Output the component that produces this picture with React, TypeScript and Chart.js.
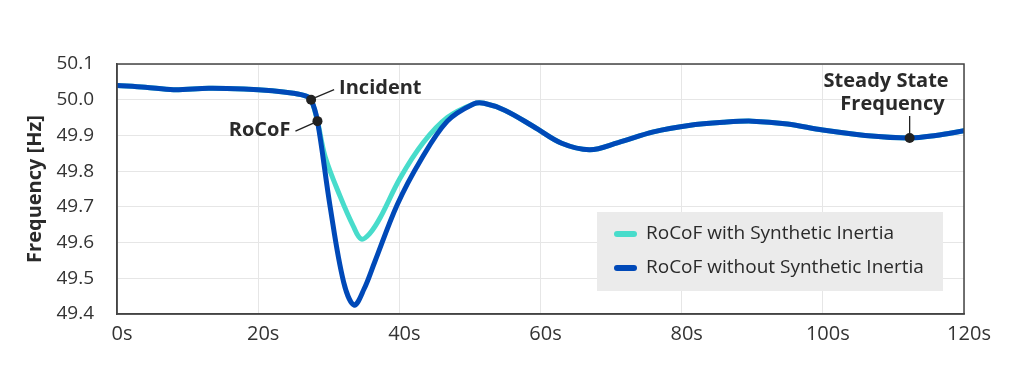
import React, { useEffect, useRef } from "react";
import { Chart, registerables } from "chart.js";

Chart.register(...registerables);

// Time (s) and frequency (Hz) – without synthetic inertia
const timeWithout = [0, 4, 8, 13, 18, 22, 25, 26.8, 27.5, 28.4, 30.2, 32.1, 33.6, 35, 36.5, 39.7, 43, 46.8, 50.5, 52, 55, 59, 63, 67, 71, 76, 81, 86, 90, 95, 100, 106, 112.3, 116, 120];
const freqWithout = [50.04, 50.035, 50.028, 50.032, 50.03, 50.025, 50.018, 50.01, 50.0, 49.94, 49.7, 49.49, 49.425, 49.47, 49.545, 49.706, 49.83, 49.94, 49.988, 49.99, 49.97, 49.925, 49.878, 49.86, 49.88, 49.91, 49.928, 49.937, 49.94, 49.932, 49.915, 49.9, 49.893, 49.9, 49.913];

// With synthetic inertia
const timeWith = [0, 4, 8, 13, 18, 22, 25, 26.8, 27.5, 28.4, 29.5, 31.6, 33.5, 34.6, 35.8, 37.3, 40.1, 43.4, 46.8, 50.5, 52, 55, 59, 63, 67, 71, 76, 81, 86, 90, 95, 100, 106, 112.3, 116, 120];
const freqWith = [50.04, 50.035, 50.028, 50.032, 50.03, 50.025, 50.018, 50.01, 50.0, 49.94, 49.84, 49.73, 49.645, 49.61, 49.625, 49.67, 49.78, 49.88, 49.95, 49.988, 49.99, 49.97, 49.925, 49.878, 49.86, 49.88, 49.91, 49.928, 49.937, 49.94, 49.932, 49.915, 49.9, 49.893, 49.9, 49.913];

// Marked points
const markerTimes = [27.5, 28.4, 112.3];
const markerFreqs = [50.0, 49.94, 49.893];

const seriesLabels = ["RoCoF with Synthetic Inertia", "RoCoF without Synthetic Inertia"];
const xTicks = [0, 20, 40, 60, 80, 100, 120];
const yTicks = [49.4, 49.5, 49.6, 49.7, 49.8, 49.9, 50.0, 50.1];

const FONT = "'Open Sans', 'Noto Sans', sans-serif";
const TEAL = "#48dccb";
const BLUE = "#0049b8";
const TEXT = "#2a2a2a";

const framePlugin = {
  id: "frame",
  afterDatasetsDraw(chart: any) {
    const { ctx, chartArea } = chart;
    ctx.save();
    ctx.strokeStyle = "#444";
    ctx.lineWidth = 1.5;
    ctx.strokeRect(chartArea.left, chartArea.top, chartArea.right - chartArea.left, chartArea.bottom - chartArea.top);
    ctx.restore();
  },
};

const annotationPlugin = {
  id: "notes",
  afterDatasetsDraw(chart: any) {
    const { ctx, scales } = chart;
    const x = scales.x, y = scales.y;
    ctx.save();
    ctx.strokeStyle = "#222";
    ctx.lineWidth = 1.3;
    ctx.fillStyle = TEXT;
    ctx.font = `bold 20px ${FONT}`;
    ctx.textBaseline = "middle";
    // Incident
    const ix = x.getPixelForValue(markerTimes[0]);
    const iy = y.getPixelForValue(markerFreqs[0]);
    ctx.beginPath();
    ctx.moveTo(ix + 4, iy - 2);
    ctx.lineTo(ix + 23, iy - 10);
    ctx.stroke();
    ctx.textAlign = "left";
    ctx.fillText("Incident", ix + 28, iy - 11);
    // RoCoF
    const rx = x.getPixelForValue(markerTimes[1]);
    const ry = y.getPixelForValue(markerFreqs[1]);
    ctx.beginPath();
    ctx.moveTo(rx - 4, ry + 2);
    ctx.lineTo(rx - 22, ry + 10);
    ctx.stroke();
    ctx.textAlign = "right";
    ctx.fillText("RoCoF", rx - 27, ry + 9);
    // Steady state
    const sx = x.getPixelForValue(markerTimes[2]);
    const sy = y.getPixelForValue(markerFreqs[2]);
    ctx.beginPath();
    ctx.moveTo(sx, sy);
    ctx.lineTo(sx, sy - 22);
    ctx.stroke();
    ctx.textAlign = "right";
    ctx.fillText("Steady State", sx + 39, sy - 57);
    ctx.fillText("Frequency", sx + 35, sy - 34);
    ctx.restore();
  },
};

const legendPlugin = {
  id: "boxLegend",
  afterDraw(chart: any) {
    const { ctx, chartArea } = chart;
    const bx = chartArea.right - 367;
    const by = chartArea.bottom - 102;
    const bw = 346;
    const bh = 79;
    ctx.save();
    ctx.fillStyle = "#ebebeb";
    ctx.fillRect(bx, by, bw, bh);
    const items = [
      { label: seriesLabels[0], color: TEAL },
      { label: seriesLabels[1], color: BLUE },
    ];
    items.forEach((it, i) => {
      const cy = by + 22 + i * 34;
      ctx.strokeStyle = it.color;
      ctx.lineWidth = 6;
      ctx.lineCap = "round";
      ctx.beginPath();
      ctx.moveTo(bx + 20, cy);
      ctx.lineTo(bx + 37, cy);
      ctx.stroke();
      ctx.fillStyle = TEXT;
      ctx.font = `19px ${FONT}`;
      ctx.textAlign = "left";
      ctx.textBaseline = "middle";
      ctx.fillText(it.label, bx + 49, cy);
    });
    ctx.restore();
  },
};

export default function App() {
  const ref = useRef<HTMLCanvasElement | null>(null);
  useEffect(() => {
    if (!ref.current) return;
    const chart = new Chart(ref.current, {
      type: "line",
      data: {
        datasets: [
          {
            label: "markers",
            data: markerTimes.map((t, i) => ({ x: t, y: markerFreqs[i] })),
            showLine: false,
            pointRadius: 5,
            pointBackgroundColor: "#222",
            pointBorderWidth: 0,
            order: 0,
          },
          {
            label: seriesLabels[1],
            data: timeWithout.map((t, i) => ({ x: t, y: freqWithout[i] })),
            borderColor: BLUE,
            borderWidth: 5,
            pointRadius: 0,
            tension: 0.35,
            borderCapStyle: "round",
            borderJoinStyle: "round",
            order: 1,
          },
          {
            label: seriesLabels[0],
            data: timeWith.map((t, i) => ({ x: t, y: freqWith[i] })),
            borderColor: TEAL,
            borderWidth: 5,
            pointRadius: 0,
            tension: 0.35,
            borderCapStyle: "round",
            borderJoinStyle: "round",
            order: 2,
          },
        ],
      } as any,
      options: {
        animation: false,
        responsive: false,
        layout: { padding: { top: 64, right: 60, left: 0, bottom: 0 } },
        plugins: { legend: { display: false }, tooltip: { enabled: false } },
        scales: {
          x: {
            type: "linear",
            min: 0,
            max: 120,
            afterBuildTicks: (s: any) => { s.ticks = xTicks.map((v) => ({ value: v })); },
            afterFit: (s: any) => { s.height = 74; },
            grid: { color: "#e6e6e6", drawTicks: false, lineWidth: 1 },
            border: { color: "#444", width: 1.5 },
            ticks: {
              padding: 8,
              labelOffset: 5,
              color: "#333",
              font: { family: FONT, size: 20 },
              callback: (v: any) => `${v}s`,
            },
          },
          y: {
            type: "linear",
            min: 49.4,
            max: 50.1,
            afterBuildTicks: (s: any) => { s.ticks = yTicks.map((v) => ({ value: v })); },
            afterFit: (s: any) => { s.width = 117; },
            grid: { color: "#e6e6e6", drawTicks: false, lineWidth: 1 },
            border: { color: "#444", width: 1.5 },
            title: {
              display: true,
              text: "Frequency [Hz]",
              color: TEXT,
              font: { family: FONT, size: 20, weight: "bold" },
              padding: { top: 23, bottom: 0 },
            },
            ticks: {
              padding: 23,
              color: "#333",
              font: { family: FONT, size: 19 },
              callback: (v: any) => Number(v).toFixed(1),
            },
          },
        },
      } as any,
      plugins: [framePlugin, annotationPlugin, legendPlugin],
    });
    return () => chart.destroy();
  }, []);
  return (
    <div style={{ position: "absolute", left: 0, top: 0, width: 1024, height: 388, background: "#fff" }}>
      <canvas ref={ref} width={1024} height={388} style={{ display: "block" }} />
    </div>
  );
}
